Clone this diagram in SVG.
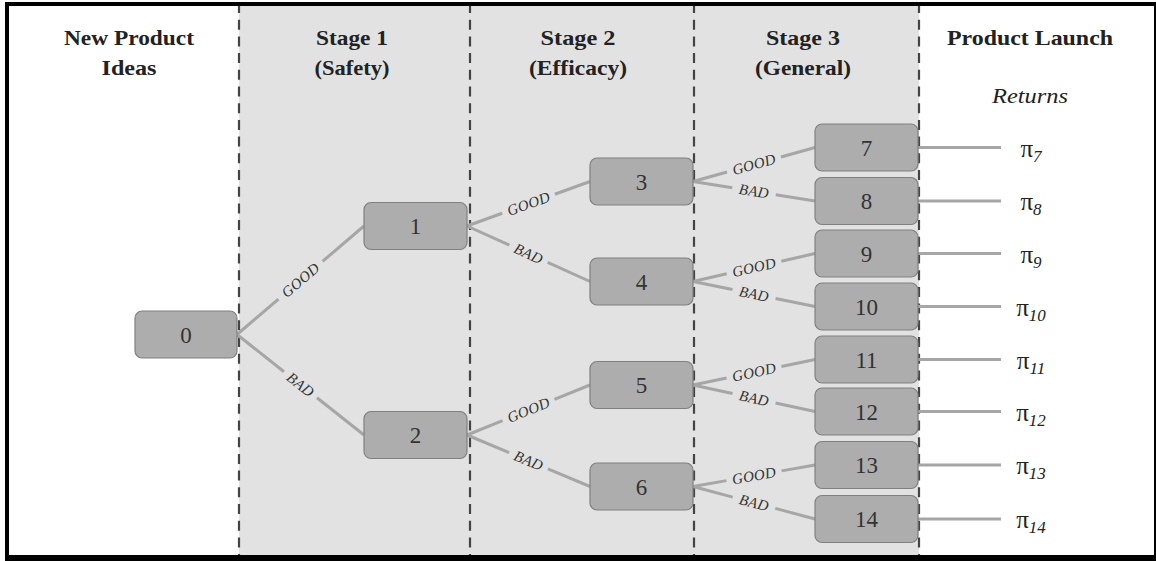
<svg xmlns="http://www.w3.org/2000/svg" width="1156" height="561" viewBox="0 0 1156 561">
<style>
.hdr{font-family:"Liberation Serif","Times New Roman",serif;font-weight:bold;font-size:22px;fill:#222;text-anchor:middle}
.ret{font-family:"Liberation Serif","Times New Roman",serif;font-style:italic;font-size:21px;fill:#222;text-anchor:middle}
.box{fill:#adadad;stroke:#808080;stroke-width:1.2}
.num{font-family:"Liberation Serif","Times New Roman",serif;font-size:23px;fill:#333;text-anchor:middle}
.edge{stroke:#a6a6a6;stroke-width:3;fill:none}
.lbl{font-family:"Liberation Serif","Times New Roman",serif;font-style:italic;font-size:15px;letter-spacing:0.3px;fill:#333;text-anchor:middle;dominant-baseline:central}
.dash{stroke:#444;stroke-width:2.2;stroke-dasharray:10 6.7}
.pi{font-family:"Liberation Serif","Times New Roman",serif;font-size:25px;fill:#222;text-anchor:middle}
.sub{font-style:italic;font-size:17px}
</style>
<rect x="0" y="0" width="1156" height="561" fill="#ffffff"/>
<rect x="239" y="4" width="680" height="553" fill="#e2e2e2"/>
<g id="dividers">
<line class="dash" x1="239" y1="3" x2="239" y2="557"/>
<line class="dash" x1="470" y1="3" x2="470" y2="557"/>
<line class="dash" x1="694" y1="3" x2="694" y2="557"/>
<line class="dash" x1="919" y1="3" x2="919" y2="557"/>
</g>
<g id="frame" fill="#000">
<rect x="5" y="2" width="1151" height="4"/>
<rect x="5" y="2" width="4" height="559"/>
<rect x="5" y="555" width="1151" height="6"/>
<rect x="1154" y="2" width="2" height="559"/>
</g>
<g id="headers">
<text class="hdr" x="129" y="45" textLength="130" lengthAdjust="spacingAndGlyphs">New Product</text>
<text class="hdr" x="129" y="75" textLength="55" lengthAdjust="spacingAndGlyphs">Ideas</text>
<text class="hdr" x="352" y="45" textLength="72" lengthAdjust="spacingAndGlyphs">Stage 1</text>
<text class="hdr" x="352" y="75" textLength="75" lengthAdjust="spacingAndGlyphs">(Safety)</text>
<text class="hdr" x="578" y="45" textLength="75" lengthAdjust="spacingAndGlyphs">Stage 2</text>
<text class="hdr" x="578" y="75" textLength="98" lengthAdjust="spacingAndGlyphs">(Efficacy)</text>
<text class="hdr" x="803" y="45" textLength="74" lengthAdjust="spacingAndGlyphs">Stage 3</text>
<text class="hdr" x="803" y="75" textLength="96" lengthAdjust="spacingAndGlyphs">(General)</text>
<text class="hdr" x="1030" y="45" textLength="166" lengthAdjust="spacingAndGlyphs">Product  Launch</text>
<text class="ret" x="1030" y="103" textLength="76" lengthAdjust="spacingAndGlyphs">Returns</text>
</g>
<g id="connectors">
<polyline class="edge" points="237,334.5 278.45,299.09"/><polyline class="edge" points="322.55,261.41 364,226"/>
<polyline class="edge" points="237,334.5 284.03,371.72"/><polyline class="edge" points="316.97,397.78 364,435"/>
<polyline class="edge" points="467,226 502.17,213.28"/><polyline class="edge" points="554.83,194.22 590,181.5"/>
<polyline class="edge" points="467,226 509.36,245.11"/><polyline class="edge" points="547.64,262.39 590,281.5"/>
<polyline class="edge" points="467,435 502.56,420.54"/><polyline class="edge" points="554.44,399.46 590,385"/>
<polyline class="edge" points="467,435 509.13,452.64"/><polyline class="edge" points="547.87,468.86 590,486.5"/>
<polyline class="edge" points="693,181.5 727.03,172.02"/><polyline class="edge" points="780.97,156.98 815,147.5"/>
<polyline class="edge" points="693,181.5 732.28,187.78"/><polyline class="edge" points="775.72,194.72 815,201"/>
<polyline class="edge" points="693,281.5 726.71,273.76"/><polyline class="edge" points="781.29,261.24 815,253.5"/>
<polyline class="edge" points="693,281.5 732.45,289.58"/><polyline class="edge" points="775.55,298.42 815,306.5"/>
<polyline class="edge" points="693,385 726.59,377.98"/><polyline class="edge" points="781.41,366.52 815,359.5"/>
<polyline class="edge" points="693,385 732.5,393.58"/><polyline class="edge" points="775.5,402.92 815,411.5"/>
<polyline class="edge" points="693,486.5 726.43,480.61"/><polyline class="edge" points="781.57,470.89 815,465"/>
<polyline class="edge" points="693,486.5 732.74,497.09"/><polyline class="edge" points="775.26,508.41 815,519"/>
<line class="edge" x1="918" y1="147.5" x2="1001" y2="147.5"/>
<line class="edge" x1="918" y1="201" x2="1001" y2="201"/>
<line class="edge" x1="918" y1="253.5" x2="1001" y2="253.5"/>
<line class="edge" x1="918" y1="306.5" x2="1001" y2="306.5"/>
<line class="edge" x1="918" y1="359.5" x2="1001" y2="359.5"/>
<line class="edge" x1="918" y1="411.5" x2="1001" y2="411.5"/>
<line class="edge" x1="918" y1="465" x2="1001" y2="465"/>
<line class="edge" x1="918" y1="519" x2="1001" y2="519"/>
<text class="lbl" transform="translate(300.5,280.25) rotate(-40.5)">GOOD</text>
<text class="lbl" transform="translate(300.5,384.75) rotate(38.35)">BAD</text>
<text class="lbl" transform="translate(528.5,203.75) rotate(-19.89)">GOOD</text>
<text class="lbl" transform="translate(528.5,253.75) rotate(24.29)">BAD</text>
<text class="lbl" transform="translate(528.5,410) rotate(-22.12)">GOOD</text>
<text class="lbl" transform="translate(528.5,460.75) rotate(22.72)">BAD</text>
<text class="lbl" transform="translate(754,164.5) rotate(-15.57)">GOOD</text>
<text class="lbl" transform="translate(754,191.25) rotate(9.08)">BAD</text>
<text class="lbl" transform="translate(754,267.5) rotate(-12.93)">GOOD</text>
<text class="lbl" transform="translate(754,294) rotate(11.58)">BAD</text>
<text class="lbl" transform="translate(754,372.25) rotate(-11.81)">GOOD</text>
<text class="lbl" transform="translate(754,398.25) rotate(12.25)">BAD</text>
<text class="lbl" transform="translate(754,475.75) rotate(-9.99)">GOOD</text>
<text class="lbl" transform="translate(754,502.75) rotate(14.92)">BAD</text>
</g>
<g id="node0"><rect class="box" x="135" y="311" width="102" height="47" rx="7"/><text class="num" x="186" y="342.5">0</text></g>
<g id="node1"><rect class="box" x="364" y="202.5" width="103" height="47" rx="7"/><text class="num" x="415.5" y="234">1</text></g>
<g id="node2"><rect class="box" x="364" y="411.5" width="103" height="47" rx="7"/><text class="num" x="415.5" y="443">2</text></g>
<g id="node3"><rect class="box" x="590" y="158" width="103" height="47" rx="7"/><text class="num" x="641.5" y="189.5">3</text></g>
<g id="node4"><rect class="box" x="590" y="258" width="103" height="47" rx="7"/><text class="num" x="641.5" y="289.5">4</text></g>
<g id="node5"><rect class="box" x="590" y="361.5" width="103" height="47" rx="7"/><text class="num" x="641.5" y="393">5</text></g>
<g id="node6"><rect class="box" x="590" y="463" width="103" height="47" rx="7"/><text class="num" x="641.5" y="494.5">6</text></g>
<g id="node7"><rect class="box" x="815" y="124" width="103" height="47" rx="7"/><text class="num" x="866.5" y="155.5">7</text></g>
<g id="node8"><rect class="box" x="815" y="177.5" width="103" height="47" rx="7"/><text class="num" x="866.5" y="209">8</text></g>
<g id="node9"><rect class="box" x="815" y="230" width="103" height="47" rx="7"/><text class="num" x="866.5" y="261.5">9</text></g>
<g id="node10"><rect class="box" x="815" y="283" width="103" height="47" rx="7"/><text class="num" x="866.5" y="314.5">10</text></g>
<g id="node11"><rect class="box" x="815" y="336" width="103" height="47" rx="7"/><text class="num" x="866.5" y="367.5">11</text></g>
<g id="node12"><rect class="box" x="815" y="388" width="103" height="47" rx="7"/><text class="num" x="866.5" y="419.5">12</text></g>
<g id="node13"><rect class="box" x="815" y="441.5" width="103" height="47" rx="7"/><text class="num" x="866.5" y="473">13</text></g>
<g id="node14"><rect class="box" x="815" y="495.5" width="103" height="47" rx="7"/><text class="num" x="866.5" y="527">14</text></g>
<g id="returns">
<text class="pi" x="1031" y="156.5">π<tspan class="sub" dy="5">7</tspan></text>
<text class="pi" x="1031" y="210">π<tspan class="sub" dy="5">8</tspan></text>
<text class="pi" x="1031" y="262.5">π<tspan class="sub" dy="5">9</tspan></text>
<text class="pi" x="1031" y="315.5">π<tspan class="sub" dy="5">10</tspan></text>
<text class="pi" x="1031" y="368.5">π<tspan class="sub" dy="5">11</tspan></text>
<text class="pi" x="1031" y="420.5">π<tspan class="sub" dy="5">12</tspan></text>
<text class="pi" x="1031" y="474">π<tspan class="sub" dy="5">13</tspan></text>
<text class="pi" x="1031" y="528">π<tspan class="sub" dy="5">14</tspan></text>
</g>
</svg>
